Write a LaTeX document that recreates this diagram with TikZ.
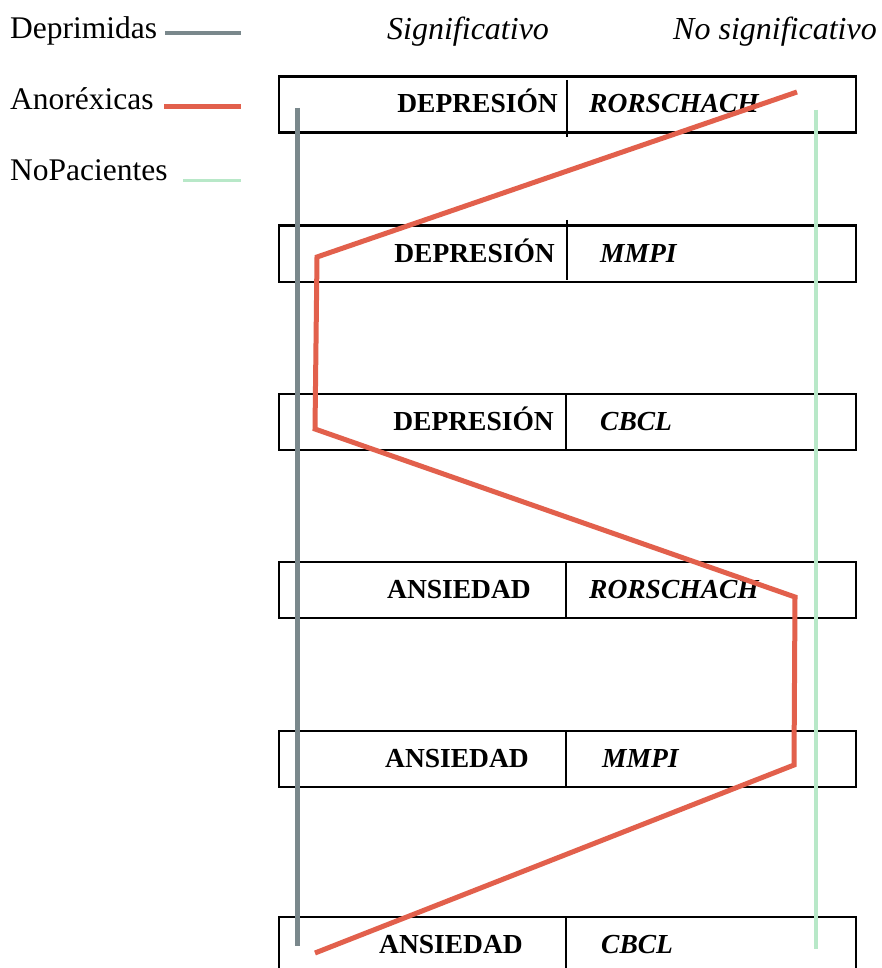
\documentclass[tikz,border=0pt]{standalone}
\usepackage{fontspec}
\setmainfont{Liberation Serif}
\definecolor{depgray}{RGB}{122,136,140}
\definecolor{anored}{RGB}{226,96,76}
\definecolor{nopgreen}{RGB}{184,232,200}
\begin{document}
\begin{tikzpicture}[x=1pt,y=-1pt,
  catbox/.style={draw=black, line width=2.2pt, minimum width=577pt, minimum height=56pt, inner sep=0pt, anchor=north west},
  divider/.style={draw=black, line width=2pt},
  lefttxt/.style={font=\fontsize{27.5}{30}\selectfont\bfseries, anchor=base east, inner sep=0pt},
  righttxt/.style={font=\fontsize{27.5}{30}\selectfont\bfseries\itshape, anchor=base west, inner sep=0pt},
  legtxt/.style={font=\fontsize{31.5}{34}\selectfont, anchor=base west, inner sep=0pt},
  headtxt/.style={font=\fontsize{32}{34}\selectfont\itshape, anchor=base west, inner sep=0pt},
  depline/.style={draw=depgray, line width=5pt},
  anoline/.style={draw=anored, line width=5pt, line join=miter},
  nopline/.style={draw=nopgreen, line width=4pt}]
\clip (0,0) rectangle (882,968);
\fill[white] (0,0) rectangle (882,968);

% header
\node[headtxt] (hsig) at (387,40) {Significativo};
\node[headtxt] (hnosig) at (673,40) {No significativo};

% legend
\node[legtxt] (ldep) at (10,39) {Deprimidas};
\node[legtxt] (lano) at (10,110) {Anoréxicas};
\node[legtxt] (lnop) at (10,181) {NoPacientes};
\coordinate (ld1) at (165,33); \coordinate (ld2) at (241,33);
\coordinate (la1) at (164,107); \coordinate (la2) at (241,107);
\coordinate (ln1) at (183,181); \coordinate (ln2) at (241,181);
\draw[depline, line width=4pt] (ld1) -- (ld2);
\draw[anoline] (la1) -- (la2);
\draw[nopline, line width=3pt] (ln1) -- (ln2);

% boxes
\node[catbox] (b1) at (278,75.5) {};
\node[catbox] (b2) at (278,224.5) {};
\node[catbox] (b3) at (278,393) {};
\node[catbox] (b4) at (278,561) {};
\node[catbox] (b5) at (278,730) {};
\node[catbox] (b6) at (278,916) {};

% dividers
\coordinate (d1a) at (567,80); \coordinate (d1b) at (567,137);
\coordinate (d2a) at (567,220); \coordinate (d2b) at (567,280);
\draw[divider] (d1a) -- (d1b);
\draw[divider] (d2a) -- (d2b);
\draw[divider] (b3.north west -| 566,0) -- (b3.south west -| 566,0);
\draw[divider] (b4.north west -| 566,0) -- (b4.south west -| 566,0);
\draw[divider] (b5.north west -| 566,0) -- (b5.south west -| 566,0);
\draw[divider] (b6.north west -| 566,0) -- (b6.south west -| 566,0);

% texts
\node[lefttxt] (t1l) at (558,113) {DEPRESIÓN};
\node[righttxt] (t1r) at (589,113) {RORSCHACH};
\node[lefttxt] (t2l) at (555,262) {DEPRESIÓN};
\node[righttxt] (t2r) at (600,262) {MMPI};
\node[lefttxt] (t3l) at (554,430.5) {DEPRESIÓN};
\node[righttxt] (t3r) at (600,430.5) {CBCL};
\node[lefttxt] (t4l) at (531,598.5) {ANSIEDAD};
\node[righttxt] (t4r) at (589,598.5) {RORSCHACH};
\node[lefttxt] (t5l) at (529,767.5) {ANSIEDAD};
\node[righttxt] (t5r) at (602,767.5) {MMPI};
\node[lefttxt] (t6l) at (523,953) {ANSIEDAD};
\node[righttxt] (t6r) at (601,953) {CBCL};

% data lines
\coordinate (g1) at (297,108); \coordinate (g2) at (297,946);
\coordinate (n1) at (816,110); \coordinate (n2) at (816,949);
\draw[depline] (g1) -- (g2);
\draw[nopline] (n1) -- (n2);
\coordinate (r1) at (797,92);
\coordinate (r2) at (317,257);
\coordinate (r3) at (315,429);
\coordinate (r4) at (795,597);
\coordinate (r5) at (794,765);
\coordinate (r6) at (315,953);
\draw[anoline] (r1) -- (r2) -- (r3) -- (r4) -- (r5) -- (r6);
\end{tikzpicture}
\end{document}
